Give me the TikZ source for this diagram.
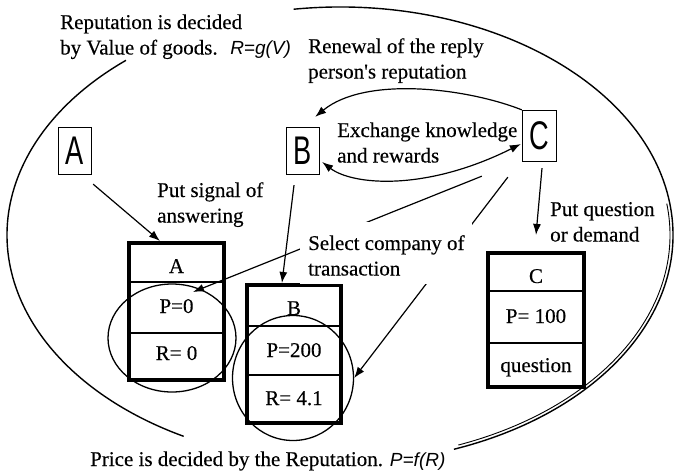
\documentclass[tikz,border=0pt]{standalone}
\usepackage{fontspec}
\setmainfont{Liberation Serif}
\newfontfamily\textserif{Liberation Serif}[FakeBold=0.3]
\newfontfamily\boxfont{Liberation Sans}
\newfontfamily\formulafont{Liberation Sans}
\usetikzlibrary{arrows.meta,shapes.geometric}

% two stacked lines whose baseline is that of the first line
\newcommand\twolines[2]{\vtop{\baselineskip=25.5pt\hbox{#1}\hbox{#2}}}
\newcommand\formula[1]{{\formulafont\itshape\fontsize{19}{19}\selectfont #1}}

\begin{document}
\begin{tikzpicture}[x=1pt,y=-1pt,
  lbl/.style={anchor=base west, inner sep=0pt, font=\textserif\fontsize{21}{25.5}\selectfont},
  cell/.style={anchor=base, inner sep=0pt, font=\textserif\fontsize{21}{25}\selectfont},
  agent/.style={draw, line width=1.3pt, minimum width=33pt, minimum height=47pt,
    inner sep=0pt, font=\boxfont\fontsize{40}{40}\selectfont},
  tabframe/.style={draw, line width=3.6pt, inner sep=0pt},
  rowline/.style={line width=1.4pt},
  conn/.style={line width=1.2pt},
  arr/.style={conn, -{Latex[length=11pt,width=8pt]}},
  biarr/.style={conn, {Latex[length=11pt,width=8pt]}-{Latex[length=11pt,width=8pt]}},
  ring/.style={draw, ellipse, line width=1.3pt, inner sep=0pt},
  boundary/.style={line width=1.4pt}
]
\useasboundingbox (0,0) rectangle (674,474);

% the market boundary, open where the two captions sit
\draw[boundary] (340,235) ++(230:333 and 228)
  arc[start angle=230, end angle=118, x radius=333, y radius=228];
\draw[boundary] (340,235) ++(262:333 and 228)
  arc[start angle=262, end angle=430, x radius=333, y radius=228];
\draw[line width=0.9pt] (340,235) ++(-8:330 and 225)
  arc[start angle=-8, end angle=69, x radius=330, y radius=225];

% agents
\node[agent] (boxA) at (75,151) {\scalebox{0.68}[1]{A}};
\node[agent] (boxB) at (303,151) {\scalebox{0.68}[1]{B}};
\node[agent, minimum width=34pt, minimum height=51pt] (boxC) at (539.5,136) {\scalebox{0.68}[1]{C}};

% records of the agents
\node[tabframe, minimum width=95.5pt, minimum height=137.5pt] (tabA) at (176.5,311.5) {};
\node[tabframe, minimum width=94.5pt, minimum height=138.5pt] (tabB) at (294,354) {};
\node[tabframe, minimum width=96.5pt, minimum height=134.5pt] (tabC) at (536,320) {};
\draw[rowline] (129,282) -- (224,282) (129,333) -- (224,333);
\draw[rowline] (247,326) -- (341,326) (247,375) -- (341,375);
\draw[rowline] (488,291) -- (584,291) (488,343) -- (584,343);

\node[cell] (a1) at (176.5,273) {A};
\node[cell] (a2) at (176.5,313) {P=0};
\node[cell] (a3) at (176.5,360) {R= 0};
\node[cell] (b1) at (294,315) {B};
\node[cell] (b2) at (294,357) {P=200};
\node[cell] (b3) at (294,405) {R= 4.1};
\node[cell] (c1) at (536,283) {C};
\node[cell] (c2) at (536,323) {P= 100};
\node[cell] (c3) at (536,372) {question};

% price/reputation groups
\node[ring, minimum width=128pt, minimum height=108pt] (ringA) at (172,338) {};
\node[ring, minimum width=121pt, minimum height=125pt] (ringB) at (293,378) {};

% connectors
\coordinate (selTipA) at (193,292);
\draw[arr] ([shift={(1,9)}]boxA.south east) -- ([shift={(33,0)}]tabA.north west);
\draw[arr] ([shift={(-9,10)}]boxB.south) -- ([shift={(37,0)}]tabB.north west);
\draw[arr] (boxC.north west) .. controls +(-56,-22) and +(50,-41)
  .. ([shift={(-5,-10)}]boxB.north east);
\draw[biarr] ([shift={(2,11)}]boxB.east) .. controls +(30,23) and +(-96,48)
  .. ([shift={(-1,8)}]boxC.west);
\draw[arr] ([shift={(-40,14)}]boxC.south west) -- (selTipA);
\draw[arr] ([shift={(-14,15)}]boxC.south west) -- (ringB.east);
\draw[arr] ([shift={(2.5,6)}]boxC.south) -- ([shift={(0,-16)}]tabC.north);

% captions
\node[lbl] (repLbl) at (60,29)
  {\twolines{Reputation is decided}{by Value of goods.\hspace{0.6em}\formula{R=g(V)}}};
\node[lbl] (renewLbl) at (308,53) {\twolines{Renewal of the reply}{person's reputation}};
\node[lbl] (exchLbl) at (337,137) {\twolines{Exchange knowledge}{and rewards}};
\node[lbl] (signalLbl) at (157,197) {\twolines{Put signal of}{answering}};
\node[lbl, fill=white, inner xsep=8pt, inner ysep=8pt, text height=20pt] (selectLbl)
  at (300,250) {\twolines{Select company of}{transaction}};
\node[lbl] (questLbl) at (550,216) {\twolines{Put question}{or demand}};
\node[lbl] (priceLbl) at (90,466)
  {Price is decided by the Reputation. \formula{P=f(R)}};
\end{tikzpicture}
\end{document}
